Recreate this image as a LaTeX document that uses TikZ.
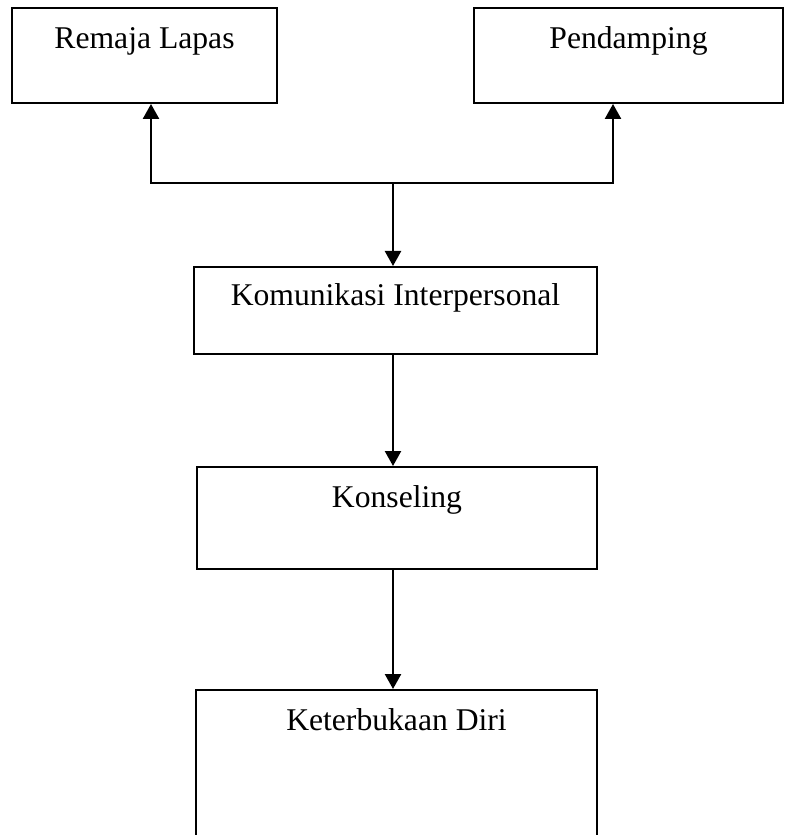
\documentclass[tikz,border=0pt]{standalone}
\usepackage{fontspec}
\setmainfont{Liberation Serif}
\usetikzlibrary{arrows.meta, positioning, math, calc}

\begin{document}
\begin{tikzpicture}[
		x=0.025cm, y=-0.025cm,
		>={Triangle[width=0.4cm, length=0.375cm]}
	]
	\tikzmath{
		\px      = 0.025;   %one pixel in cm
		\textH   = 41;      %top of box to baseline
	}
	\tikzstyle{Box} = [
		rectangle,
		anchor=north,
		draw=black,
		line width=1.4pt,
		inner sep=0pt,
		text height=\textH*\px cm,
		font=\fontsize{22.5}{27}\selectfont
	]
	\tikzstyle{Arrow} = [->, line width=1.7pt]
	\useasboundingbox (0,0) rectangle (786,835);

	\node (remaja) [Box, minimum width=265*\px cm, text depth=54*\px cm] at (144.5,7) {Remaja Lapas};
	\node (pendamping) [Box, minimum width=309*\px cm, text depth=54*\px cm] at (628.5,7) {Pendamping};
	\node (komunikasi) [Box, minimum width=403*\px cm, text height=39*\px cm, text depth=48*\px cm] at (395.5,266) {Komunikasi Interpersonal};
	\node (konseling) [Box, minimum width=400*\px cm, text depth=61*\px cm] at (397,466) {Konseling};
	\node (keterbukaan) [Box, minimum width=401*\px cm, text depth=150*\px cm] at (396.5,689) {Keterbukaan Diri};

	\coordinate (split) at (393,183);
	\coordinate (leftTurn) at (151,183);
	\coordinate (rightTurn) at (613,183);

	\draw [Arrow] (split) -- (leftTurn) -- (remaja.south -| leftTurn);
	\draw [Arrow] (split) -- (rightTurn) -- (pendamping.south -| rightTurn);
	\draw [Arrow] (split) -- (komunikasi.north -| split);
	\draw [Arrow] (komunikasi.south -| split) -- (konseling.north -| split);
	\draw [Arrow] (konseling.south -| split) -- (keterbukaan.north -| split);
\end{tikzpicture}
\end{document}
